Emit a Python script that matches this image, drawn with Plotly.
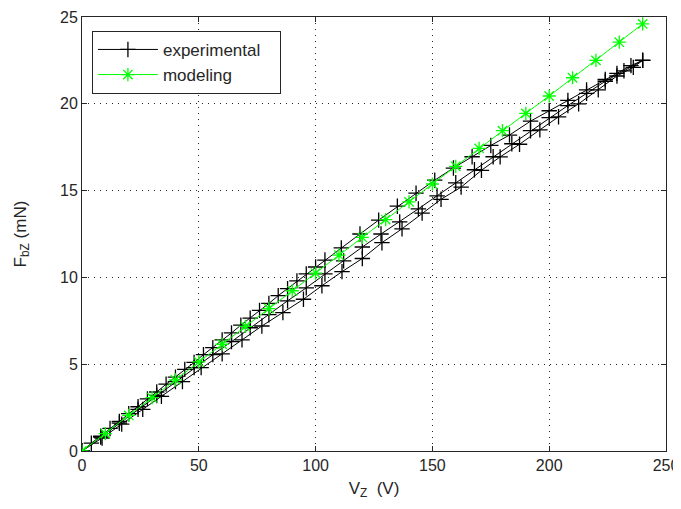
import plotly.graph_objects as go

# Modeling curve
model_x = [0, 10, 20, 30, 40, 50, 60, 70, 80, 90, 100, 110, 120, 130, 140, 150,
           160, 170, 180, 190, 200, 210, 220, 230, 240]
model_y = [0.0, 1.0, 2.05, 3.07, 4.1, 5.13, 6.15, 7.18, 8.2, 9.23, 10.25, 11.28,
           12.3, 13.33, 14.35, 15.38, 16.4, 17.43, 18.45, 19.45, 20.45, 21.5,
           22.5, 23.55, 24.6]

# Experimental: first ascending branch
exp_up1_x = [0, 8, 16, 24, 32, 40, 48, 56, 64, 72, 80, 88, 96, 104, 112, 120, 128,
             136, 144, 152, 160, 168, 176, 184, 192, 200, 208, 216, 224, 232, 240]
exp_up1_y = [0.0, 0.8, 1.6, 2.4, 3.2, 4.0, 4.8, 5.55, 6.3, 7.1, 7.85, 8.65, 9.4,
             10.2, 10.95, 11.75, 12.5, 13.2, 13.95, 14.7, 15.45, 16.2, 16.95,
             17.7, 18.45, 19.2, 19.9, 20.6, 21.3, 21.9, 22.5]

# Experimental: descending branch
exp_down_x = [240, 235, 229, 224, 216, 208, 200, 192, 183, 175, 167, 159, 151, 143,
              135, 127, 119, 111, 104, 100, 96, 92, 88, 84, 80, 76, 72, 68, 64, 60,
              56, 52, 48, 44, 40, 36, 32, 28, 24, 20, 16, 12, 8, 4, 0]
exp_down_y = [22.5, 22.2, 21.75, 21.4, 20.8, 20.2, 19.6, 19.0, 18.2, 17.6, 16.95,
              16.3, 15.6, 14.85, 14.1, 13.3, 12.5, 11.7, 11.0, 10.6, 10.2, 9.8,
              9.35, 8.95, 8.5, 8.1, 7.65, 7.25, 6.8, 6.4, 5.95, 5.55, 5.1, 4.7,
              4.25, 3.85, 3.4, 3.0, 2.55, 2.15, 1.7, 1.3, 0.85, 0.45, 0.0]

# Experimental: second ascending branch
exp_up2_x = [0, 8.6, 17, 26, 34, 43, 51, 60, 68.5, 77, 86, 94.8, 102.7, 111.3, 120,
             128.4, 137, 145.6, 153.7, 162.3, 171, 179, 187.3, 196, 204, 212.6,
             221, 229, 236, 240]
exp_up2_y = [0.0, 0.75, 1.55, 2.4, 3.15, 4.0, 4.8, 5.6, 6.4, 7.2, 7.97, 8.74, 9.52,
             10.33, 11.09, 12.0, 12.8, 13.7, 14.5, 15.2, 16.17, 16.94, 17.67, 18.5,
             19.25, 20.0, 20.8, 21.6, 22.1, 22.5]

x_ticks = [0, 50, 100, 150, 200, 250]
y_ticks = [0, 5, 10, 15, 20, 25]

exp_x = exp_up1_x + exp_down_x + exp_up2_x
exp_y = exp_up1_y + exp_down_y + exp_up2_y

fig = go.Figure()
fig.add_trace(go.Scatter(
    x=exp_x, y=exp_y, mode="lines+markers", name="experimental\u00a0\u00a0\u00a0",
    line=dict(color="black", width=1),
    marker=dict(symbol="cross-thin", size=11, color="black",
                line=dict(color="black", width=1.3)),
))
fig.add_trace(go.Scatter(
    x=model_x, y=model_y, mode="lines+markers", name="modeling",
    line=dict(color="#00ff00", width=1),
    marker=dict(symbol="asterisk", size=11, color="#00ff00",
                line=dict(color="#00ff00", width=1.3)),
))

font = "Liberation Sans, Arial, sans-serif"
axis_common = dict(
    showline=True, linecolor="#262626", linewidth=1, mirror="allticks",
    ticks="inside", ticklen=5, tickcolor="#262626",
    showgrid=True, gridcolor="#262626", griddash="1px,5px", gridwidth=1,
    zeroline=False, automargin=False,
    tickfont=dict(family=font, size=16, color="#262626"),
)

# page body has an 8px margin, so the figure is sized/placed to compensate
fig.update_layout(
    width=673, height=501,
    margin=dict(l=74, r=15, t=9, b=58),
    paper_bgcolor="white", plot_bgcolor="white",
    font=dict(family=font, size=16, color="#262626"),
    xaxis=dict(range=[0, 250], tickvals=x_ticks,
               title=dict(text="V<sub>Z</sub>  (V)", font=dict(family=font, size=17), standoff=8),
               **axis_common),
    yaxis=dict(range=[0, 25], tickvals=y_ticks,
               title=dict(text="F<sub>bZ</sub> (mN)", font=dict(family=font, size=17), standoff=29),
               **axis_common),
    legend=dict(x=0.017, y=0.968, xanchor="left", yanchor="top",
                bordercolor="#262626", borderwidth=1, bgcolor="white",
                font=dict(family=font, size=17, color="#262626"),
                itemwidth=60, tracegroupgap=0),
    showlegend=True,
)

fig.write_html("out.html")
